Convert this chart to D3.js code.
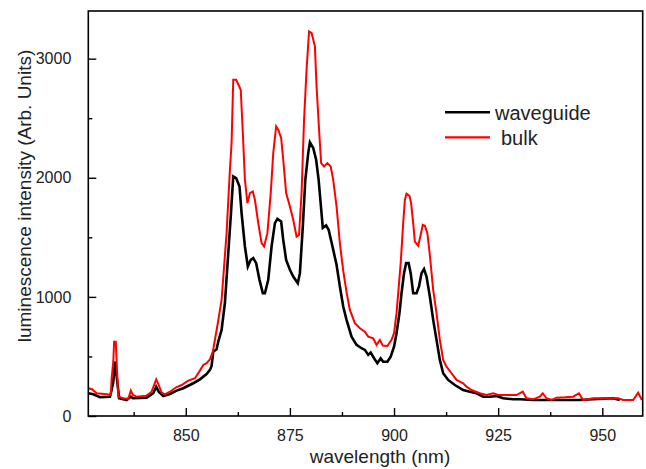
<!DOCTYPE html>
<html>
<head>
<meta charset="utf-8">
<script src="https://cdn.jsdelivr.net/npm/d3@7"></script>
<style>
  body { margin: 0; background: #fff; }
  svg { display: block; font-family: Arial, "Liberation Sans", sans-serif; }
</style>
</head>
<body>
<div id="chart"></div>
<script>
// wavelength (nm) / intensity pairs
var waveguideNm = [826.6, 827.8, 829.4, 831.8, 832.2, 832.6, 833.0, 833.6, 834.0, 835.8, 836.8, 837.3, 840.6, 842.2, 842.9, 843.5, 844.6, 846.2, 847.8, 849.4, 851.8, 853.4, 855.0, 855.8, 856.2, 856.6, 857.4, 857.8, 858.6, 859.4, 860.2, 860.8, 861.4, 862.1, 862.9, 863.4, 864.2, 864.9, 865.6, 866.2, 866.9, 867.7, 868.5, 869.0, 869.8, 870.6, 871.4, 872.0, 872.9, 873.4, 874.1, 875.0, 875.8, 876.9, 877.4, 878.1, 878.7, 879.4, 879.8, 880.6, 881.3, 881.9, 882.6, 882.9, 883.7, 884.3, 885.4, 886.2, 887.0, 887.8, 888.6, 889.8, 891.0, 892.2, 893.0, 893.8, 894.4, 895.2, 896.0, 896.8, 897.4, 898.4, 899.2, 900.0, 900.6, 901.3, 901.8, 902.4, 902.9, 903.5, 904.0, 904.6, 905.4, 906.0, 906.6, 907.2, 907.8, 908.6, 909.4, 910.2, 911.0, 911.8, 913.0, 914.6, 916.6, 918.2, 919.8, 921.4, 923.0, 924.6, 926.2, 928.6, 930.2, 933.4, 937.8, 944.4, 947.8, 952.6, 954.2];
var waveguideVal = [191, 182, 157, 162, 218, 288, 456, 275, 149, 134, 162, 149, 154, 191, 246, 204, 168, 185, 213, 233, 275, 308, 353, 387, 420, 540, 560, 624, 723, 950, 1367, 1675, 2011, 1997, 1927, 1703, 1423, 1255, 1311, 1325, 1283, 1143, 1031, 1031, 1143, 1423, 1619, 1655, 1633, 1479, 1311, 1227, 1171, 1115, 1199, 1591, 1983, 2207, 2297, 2250, 2151, 1983, 1700, 1580, 1600, 1563, 1395, 1270, 1087, 919, 807, 666, 597, 569, 555, 513, 532, 485, 443, 485, 456, 456, 498, 582, 695, 863, 1031, 1199, 1283, 1283, 1199, 1031, 1031, 1087, 1199, 1233, 1171, 1003, 807, 639, 471, 359, 303, 260, 218, 204, 191, 162, 162, 168, 149, 140, 140, 134, 134, 134, 140, 149, 134];

var bulkNm = [826.6, 827.5, 828.6, 831.0, 832.0, 832.2, 832.6, 832.8, 833.2, 833.4, 833.8, 835.0, 836.2, 836.8, 837.3, 838.2, 840.6, 841.8, 842.4, 842.9, 843.4, 844.2, 845.0, 846.2, 847.7, 849.0, 850.6, 852.2, 853.4, 854.2, 855.0, 855.8, 856.5, 857.0, 857.6, 858.6, 859.8, 860.6, 861.0, 861.4, 862.1, 863.2, 863.7, 864.2, 864.8, 865.4, 866.1, 866.6, 867.4, 868.2, 868.8, 869.6, 870.4, 871.0, 871.7, 872.2, 872.9, 873.4, 874.1, 875.0, 875.8, 876.6, 877.2, 877.8, 878.4, 879.0, 879.6, 880.2, 881.0, 881.4, 882.0, 882.5, 883.2, 884.0, 884.8, 885.4, 886.2, 887.0, 887.8, 888.6, 889.4, 890.6, 891.8, 893.0, 893.8, 895.0, 895.8, 896.6, 897.3, 898.4, 899.4, 900.0, 900.6, 901.0, 901.6, 902.2, 902.6, 903.0, 903.7, 904.1, 904.6, 905.0, 905.8, 906.4, 906.9, 907.4, 908.0, 908.6, 909.4, 910.2, 911.0, 911.8, 912.6, 913.8, 915.0, 916.6, 917.4, 918.6, 920.6, 922.2, 923.8, 925.0, 927.0, 929.4, 930.9, 931.8, 933.4, 935.0, 935.7, 936.6, 937.8, 939.0, 941.0, 943.0, 944.4, 945.4, 947.8, 951.0, 953.8, 955.0, 957.4, 958.6, 959.5];
var bulkVal = [233, 225, 191, 182, 176, 317, 456, 624, 624, 456, 162, 149, 143, 213, 176, 162, 171, 204, 260, 308, 269, 196, 182, 204, 241, 260, 297, 317, 381, 429, 443, 476, 540, 640, 760, 975, 1535, 2067, 2292, 2823, 2823, 2739, 2376, 1983, 1787, 1871, 1885, 1815, 1619, 1451, 1423, 1535, 1871, 2207, 2431, 2403, 2334, 2151, 1871, 1759, 1647, 1507, 1521, 1871, 2487, 2907, 3229, 3216, 3103, 2767, 2403, 2123, 2095, 2123, 2095, 1983, 1759, 1450, 1220, 1040, 891, 779, 737, 708, 666, 653, 597, 639, 591, 588, 639, 695, 863, 1031, 1283, 1619, 1815, 1866, 1849, 1787, 1619, 1465, 1429, 1521, 1605, 1597, 1535, 1350, 1059, 863, 639, 471, 414, 359, 303, 275, 246, 218, 191, 176, 191, 176, 176, 176, 204, 149, 140, 162, 191, 149, 134, 154, 157, 162, 191, 134, 149, 149, 149, 134, 134, 196, 134];

var xMajor = [850, 875, 900, 925, 950];
var xMinor = [837.5, 862.5, 887.5, 912.5, 937.5];
var yMajor = [0, 1000, 2000, 3000];
var yMinor = [500, 1500, 2500];

var seriesNames = ['waveguide', 'bulk'];
var seriesColors = ['#000000', '#ff0000'];

var W = 646, H = 469;
var margin = { top: 11, right: 3.3, bottom: 53, left: 88.3 };
var width = W - margin.left - margin.right;
var height = H - margin.top - margin.bottom;

var svg = d3.select('#chart').append('svg')
    .attr('width', W)
    .attr('height', H);

var g = svg.append('g')
    .attr('transform', 'translate(' + margin.left + ',' + margin.top + ')');

var x = d3.scaleLinear().domain([826.6, 959.7]).range([0, width]);
var y = d3.scaleLinear().domain([0, 3400]).range([height, 0]);

var line = d3.line()
    .x(d => x(d[0]))
    .y(d => y(d[1]));

var series = [
    waveguideNm.map((v, i) => [v, waveguideVal[i]]),
    bulkNm.map((v, i) => [v, bulkVal[i]])
];

// black first so red sits on top where they overlap
g.selectAll('path.curve')
    .data(series)
    .join('path')
    .attr('class', 'curve')
    .attr('d', line)
    .attr('fill', 'none')
    .attr('stroke', (d, i) => seriesColors[i])
    .attr('stroke-width', (d, i) => i == 0 ? 2.6 : 2)
    .attr('stroke-linejoin', 'miter');

// axes, ticks pointing inward
g.append('g')
    .attr('transform', 'translate(0,' + height + ')')
    .call(d3.axisBottom(x).tickValues(xMinor).tickSize(-4).tickFormat(''));
g.append('g')
    .attr('class', 'xmajor')
    .attr('transform', 'translate(0,' + height + ')')
    .call(d3.axisBottom(x).tickValues(xMajor).tickSize(-8).tickPadding(14).tickFormat(d3.format('d')));
g.append('g')
    .call(d3.axisLeft(y).tickValues(yMinor).tickSize(-4).tickFormat(''));
g.append('g')
    .attr('class', 'ymajor')
    .call(d3.axisLeft(y).tickValues(yMajor).tickSize(-8).tickPadding(17).tickFormat(d3.format('d')));

g.selectAll('.domain').remove();
g.selectAll('.tick line')
    .style('stroke', '#000')
    .style('stroke-width', 1.4);
g.selectAll('.tick text')
    .style('font-family', 'Arial, "Liberation Sans", sans-serif')
    .style('font-size', '16px')
    .style('fill', '#222');

g.append('rect')
    .attr('width', width)
    .attr('height', height)
    .attr('fill', 'none')
    .attr('stroke', '#000')
    .attr('stroke-width', 1.6);

svg.append('text')
    .attr('x', 380)
    .attr('y', 463)
    .attr('text-anchor', 'middle')
    .style('font-size', '19px')
    .style('fill', '#222')
    .text('wavelength (nm)');

svg.append('text')
    .attr('transform', 'translate(31,196) rotate(-90)')
    .attr('text-anchor', 'middle')
    .style('font-size', '19px')
    .style('fill', '#222')
    .text('luminescence intensity (Arb. Units)');

// legend
var legend = svg.append('g');
seriesNames.forEach((name, i) => {
    var ly = 112.3 + i * 25;
    legend.append('line')
        .attr('x1', 445).attr('x2', 490)
        .attr('y1', ly).attr('y2', ly)
        .attr('stroke', seriesColors[i])
        .attr('stroke-width', i == 0 ? 2.6 : 2.2);
    legend.append('text')
        .attr('x', i == 0 ? 495 : 501)
        .attr('y', ly + 7.5)
        .style('font-size', '20px')
        .style('fill', '#222')
        .text(name);
});
</script>
</body>
</html>
